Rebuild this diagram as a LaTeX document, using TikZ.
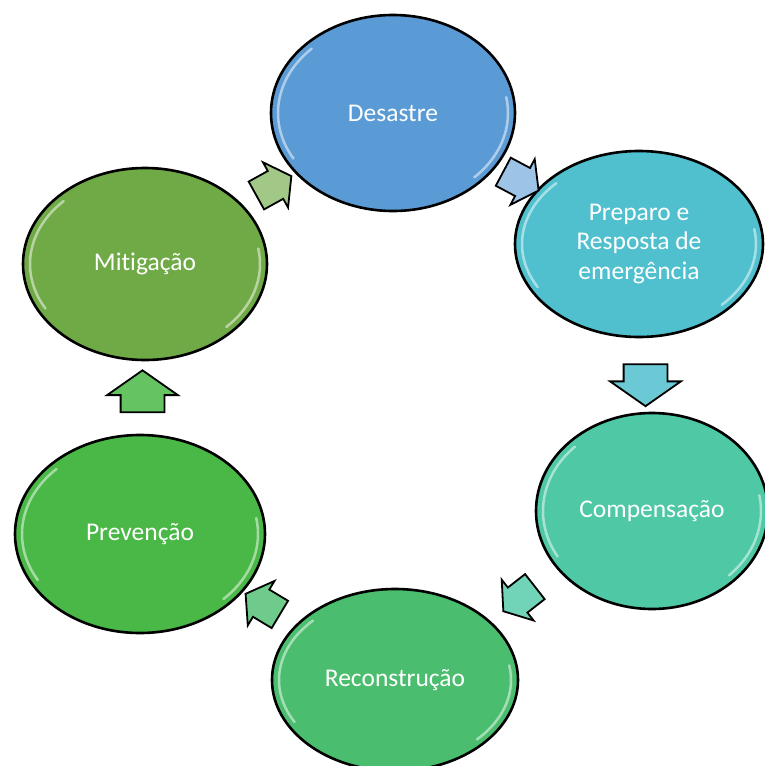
\documentclass[tikz,border=0pt]{standalone}
\usepackage{fontspec}
\setmainfont[Ligatures=NoCommon]{Carlito}
\usetikzlibrary{shapes.geometric,shapes.arrows,calc}
\definecolor{desblue}{RGB}{91,155,213}
\definecolor{prepcyan}{RGB}{80,192,206}
\definecolor{compteal}{RGB}{78,200,165}
\definecolor{recgreen}{RGB}{74,190,110}
\definecolor{prevgreen}{RGB}{74,184,70}
\definecolor{mitolive}{RGB}{112,170,70}

\begin{document}
\begin{tikzpicture}[x=1pt,y=-1pt,
  phase/.style={ellipse,draw=black,line width=2.6pt,inner sep=0pt,text=white,
    font=\fontsize{25.5}{29.5}\selectfont,align=center},
  turn/.style={single arrow,draw=black,line width=1.8pt,inner xsep=0pt,
    single arrow tip angle=110,single arrow head indent=0pt},
  straight/.style={turn,inner ysep=21pt,minimum height=42,minimum width=70,single arrow head extend=13.5},
  slant/.style={turn,inner ysep=15pt,minimum height=40,minimum width=50,single arrow head extend=10},
  glint/.style={white,line width=2.5pt,opacity=.5,line cap=round}]
\useasboundingbox (0,0) rectangle (764,766);

% phases of the cycle
\node[phase,fill=desblue,minimum width=244,minimum height=196] (desastre) at (393,113) {Desastre};
\node[phase,fill=prepcyan,minimum width=248,minimum height=186] (preparo) at (639,244) {Preparo e\\Resposta de\\emergência};
\node[phase,fill=compteal,minimum width=232,minimum height=196] (compens) at (652,511) {Compensação};
\node[phase,fill=recgreen,minimum width=246,minimum height=182] (reconst) at (395,680) {Reconstrução};
\node[phase,fill=prevgreen,minimum width=250,minimum height=198] (prevenc) at (140,534) {Prevenção};
\node[phase,fill=mitolive,minimum width=244,minimum height=192] (mitig) at (145,264) {Mitigação};

% bevel highlights
\foreach \n/\rx/\ry in {desastre/115/91, preparo/117/86, compens/109/91,
                        reconst/116/84, prevenc/118/92, mitig/115/89}{
  \draw[glint] ($(\n.center)+({\rx*cos(150)},{\ry*sin(150)})$)
    arc[start angle=150,end angle=225,x radius=\rx,y radius=\ry];
  \draw[glint] ($(\n.center)+({\rx*cos(-10)},{\ry*sin(-10)})$)
    arc[start angle=-10,end angle=45,x radius=\rx,y radius=\ry];
}

% arrows between phases
\node[slant,fill=desblue!60!white,rotate=-28] (a1) at ($(desastre)!0.5!(preparo)$) {};
\node[straight,fill=prepcyan!85!white,rotate=-90] (a2) at ($(preparo)!0.5!(compens)$) {};
\node[slant,fill=compteal!80!white,rotate=218] (a3) at ($(compens)!0.5!(reconst)$) {};
\node[slant,fill=recgreen!80!white,rotate=149] (a4) at ($(reconst)!0.5!(prevenc)$) {};
\node[straight,fill=prevgreen!85!white,rotate=90] (a5) at ($(prevenc)!0.5!(mitig)$) {};
\node[slant,fill=mitolive!65!white,rotate=29] (a6) at ($(mitig)!0.5!(desastre)$) {};
\end{tikzpicture}
\end{document}
